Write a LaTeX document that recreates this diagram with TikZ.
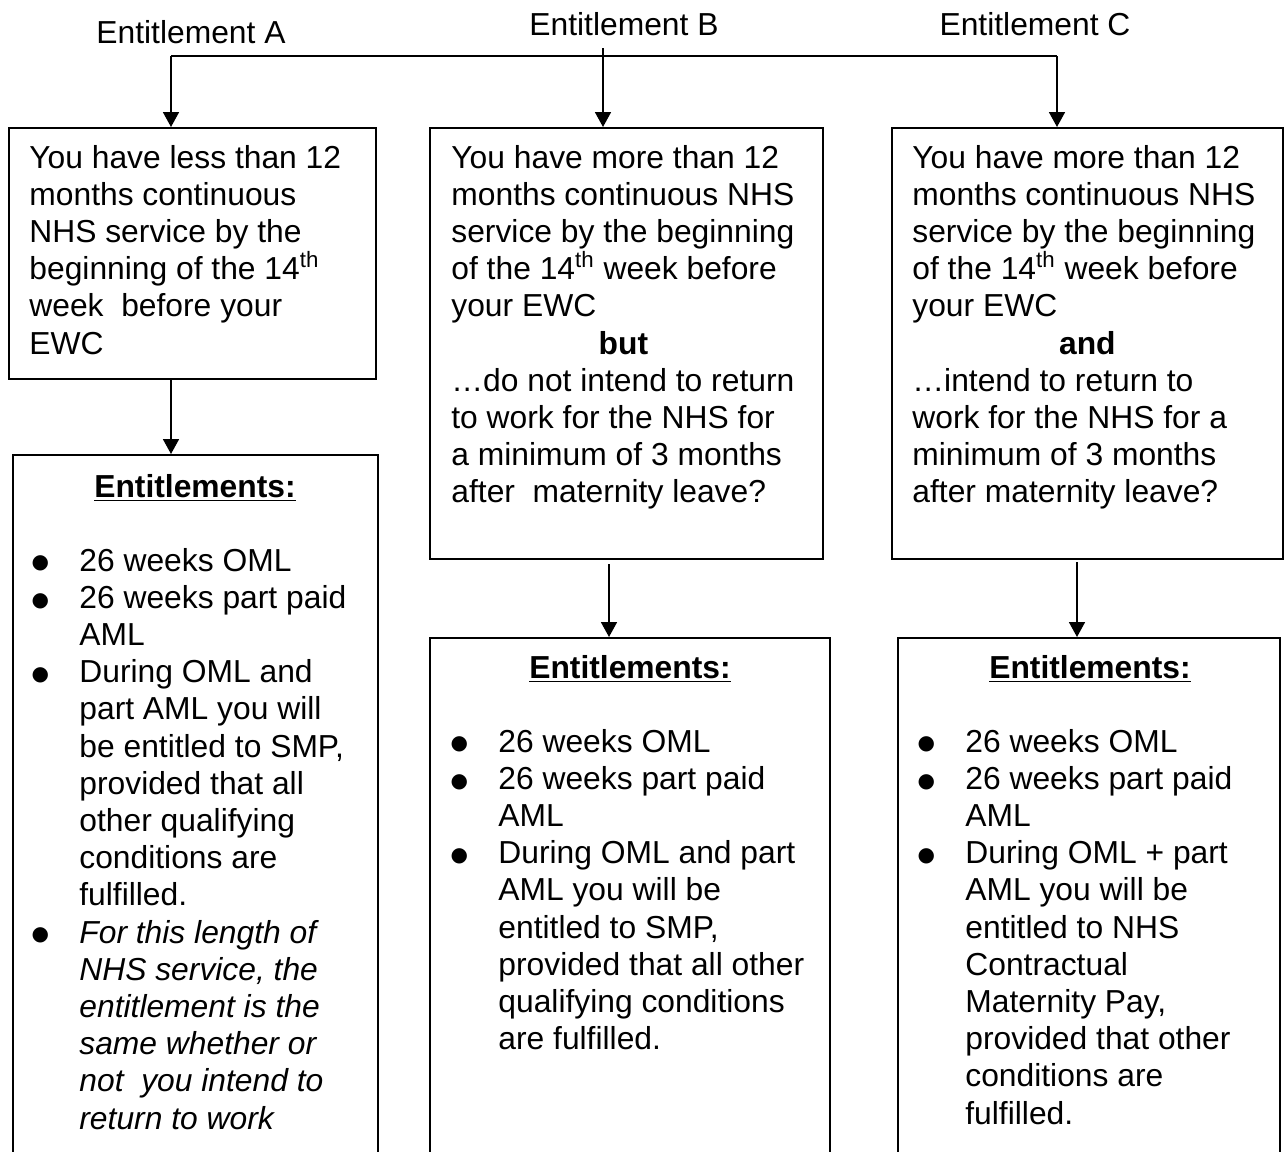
\documentclass[tikz,border=0pt]{standalone}
\usepackage{fontspec}
\setmainfont{Liberation Sans}
\newfontfamily\symfont{DejaVu Sans}
\usetikzlibrary{arrows.meta}
\newcommand\fs{\fontsize{15.9pt}{18.6pt}\selectfont}
\newcommand\blt{\leavevmode\makebox[23.5pt][l]{\hspace{-0.4pt}\raisebox{1.1pt}{\symfont\fontsize{10pt}{10pt}\selectfont ●}}}
\newcommand\ind{\leavevmode\hspace*{23.5pt}}
\newcommand\ctrword[2]{\makebox[#1][c]{\textbf{#2}}}
\newcommand\boxtext[1]{\begin{minipage}[t]{200pt}\raggedright #1\end{minipage}}
\tikzset{
  box/.style={draw, line width=1pt, anchor=north west, inner sep=0pt},
  arr/.style={line width=0.9pt, -{Triangle[length=7.5pt,width=8pt]}},
  txt/.style={anchor=base west, inner sep=0pt, font=\fs},
  ttl/.style={anchor=base, inner sep=0pt, font=\fs},
}
\begin{document}
\begin{tikzpicture}[x=0.5pt,y=-0.5pt]
\path[use as bounding box] (0,0) rectangle (1287,1152);
\clip (0,0) rectangle (1287,1152);
% titles
\node[ttl] (tA) at (191,43) {Entitlement A};
\node[ttl] (tB) at (624,35) {Entitlement B};
\node[ttl] (tC) at (1035,35) {Entitlement C};
% boxes
\node[box, minimum width=183.5pt, minimum height=125.5pt] (A) at (8,127) {};
\node[box, minimum width=196.5pt, minimum height=215.5pt] (B) at (429,127) {};
\node[box, minimum width=195.5pt, minimum height=215.5pt] (C) at (891,127) {};
\node[box, minimum width=182.5pt, minimum height=358pt] (A2) at (12,454) {};
\node[box, minimum width=200pt, minimum height=266.5pt] (B2) at (429,637) {};
\node[box, minimum width=191pt, minimum height=266.5pt] (C2) at (897,637) {};
% connectors
\coordinate (tl) at (171,56);
\coordinate (tr) at (1057,56);
\coordinate (bt) at (603,48);
\coordinate (ax) at (171,0);
\coordinate (bx) at (609,0);
\coordinate (cx) at (1077,0);
\draw[line width=0.9pt] (tl) -- (tr);
\draw[arr] (tl) -- (A.north -| tl);
\draw[arr] (bt) -- (B.north -| bt);
\draw[arr] (tr) -- (C.north -| tr);
\draw[arr] (A.south -| ax) -- (A2.north -| ax);
\draw[arr, shorten <=2pt] (B.south -| bx) -- (B2.north -| bx);
\draw[arr, shorten <=1pt] (C.south -| cx) -- (C2.north -| cx);
% upper texts
\node[txt] (xA) at (29,168) {\boxtext{%
You have less than 12\\
months continuous\\
NHS service by the\\
beginning of the 14\textsuperscript{th}\\
week\ \ before your\\
EWC}};
\node[txt] (xB) at (451,168) {\boxtext{%
You have more than 12\\
months continuous NHS\\
service by the beginning\\
of the 14\textsuperscript{th} week before\\
your EWC\\
\ctrword{172pt}{but}\\
…do not intend to return\\
to work for the NHS for\\
a minimum of 3 months\\
after\ \ maternity leave?}};
\node[txt] (xC) at (912,168) {\boxtext{%
You have more than 12\\
months continuous NHS\\
service by the beginning\\
of the 14\textsuperscript{th} week before\\
your EWC\\
\ctrword{175pt}{and}\\
…intend to return to\\
work for the NHS for a\\
minimum of 3 months\\
after maternity leave?}};
% headers
\node[ttl] (hA) at (195,497) {\textbf{\underline{Entitlements:}}};
\node[ttl] (hB) at (630,678) {\textbf{\underline{Entitlements:}}};
\node[ttl] (hC) at (1090,678) {\textbf{\underline{Entitlements:}}};
% lower texts
\node[txt] (yA) at (32,571) {\boxtext{%
\blt 26 weeks OML\\
\blt 26 weeks part paid\\
\ind AML\\
\blt During OML and\\
\ind part AML you will\\
\ind be entitled to SMP,\\
\ind provided that all\\
\ind other qualifying\\
\ind conditions are\\
\ind fulfilled.\\
\blt \textit{For this length of}\\
\ind \textit{NHS service, the}\\
\ind \textit{entitlement is the}\\
\ind \textit{same whether or}\\
\ind \textit{not\ \ you intend to}\\
\ind \textit{return to work}}};
\node[txt] (yB) at (451,752) {\boxtext{%
\blt 26 weeks OML\\
\blt 26 weeks part paid\\
\ind AML\\
\blt During OML and part\\
\ind AML you will be\\
\ind entitled to SMP,\\
\ind provided that all other\\
\ind qualifying conditions\\
\ind are fulfilled.}};
\node[txt] (yC) at (918,752) {\boxtext{%
\blt 26 weeks OML\\
\blt 26 weeks part paid\\
\ind AML\\
\blt During OML + part\\
\ind AML you will be\\
\ind entitled to NHS\\
\ind Contractual\\
\ind Maternity Pay,\\
\ind provided that other\\
\ind conditions are\\
\ind fulfilled.}};
\end{tikzpicture}
\end{document}
